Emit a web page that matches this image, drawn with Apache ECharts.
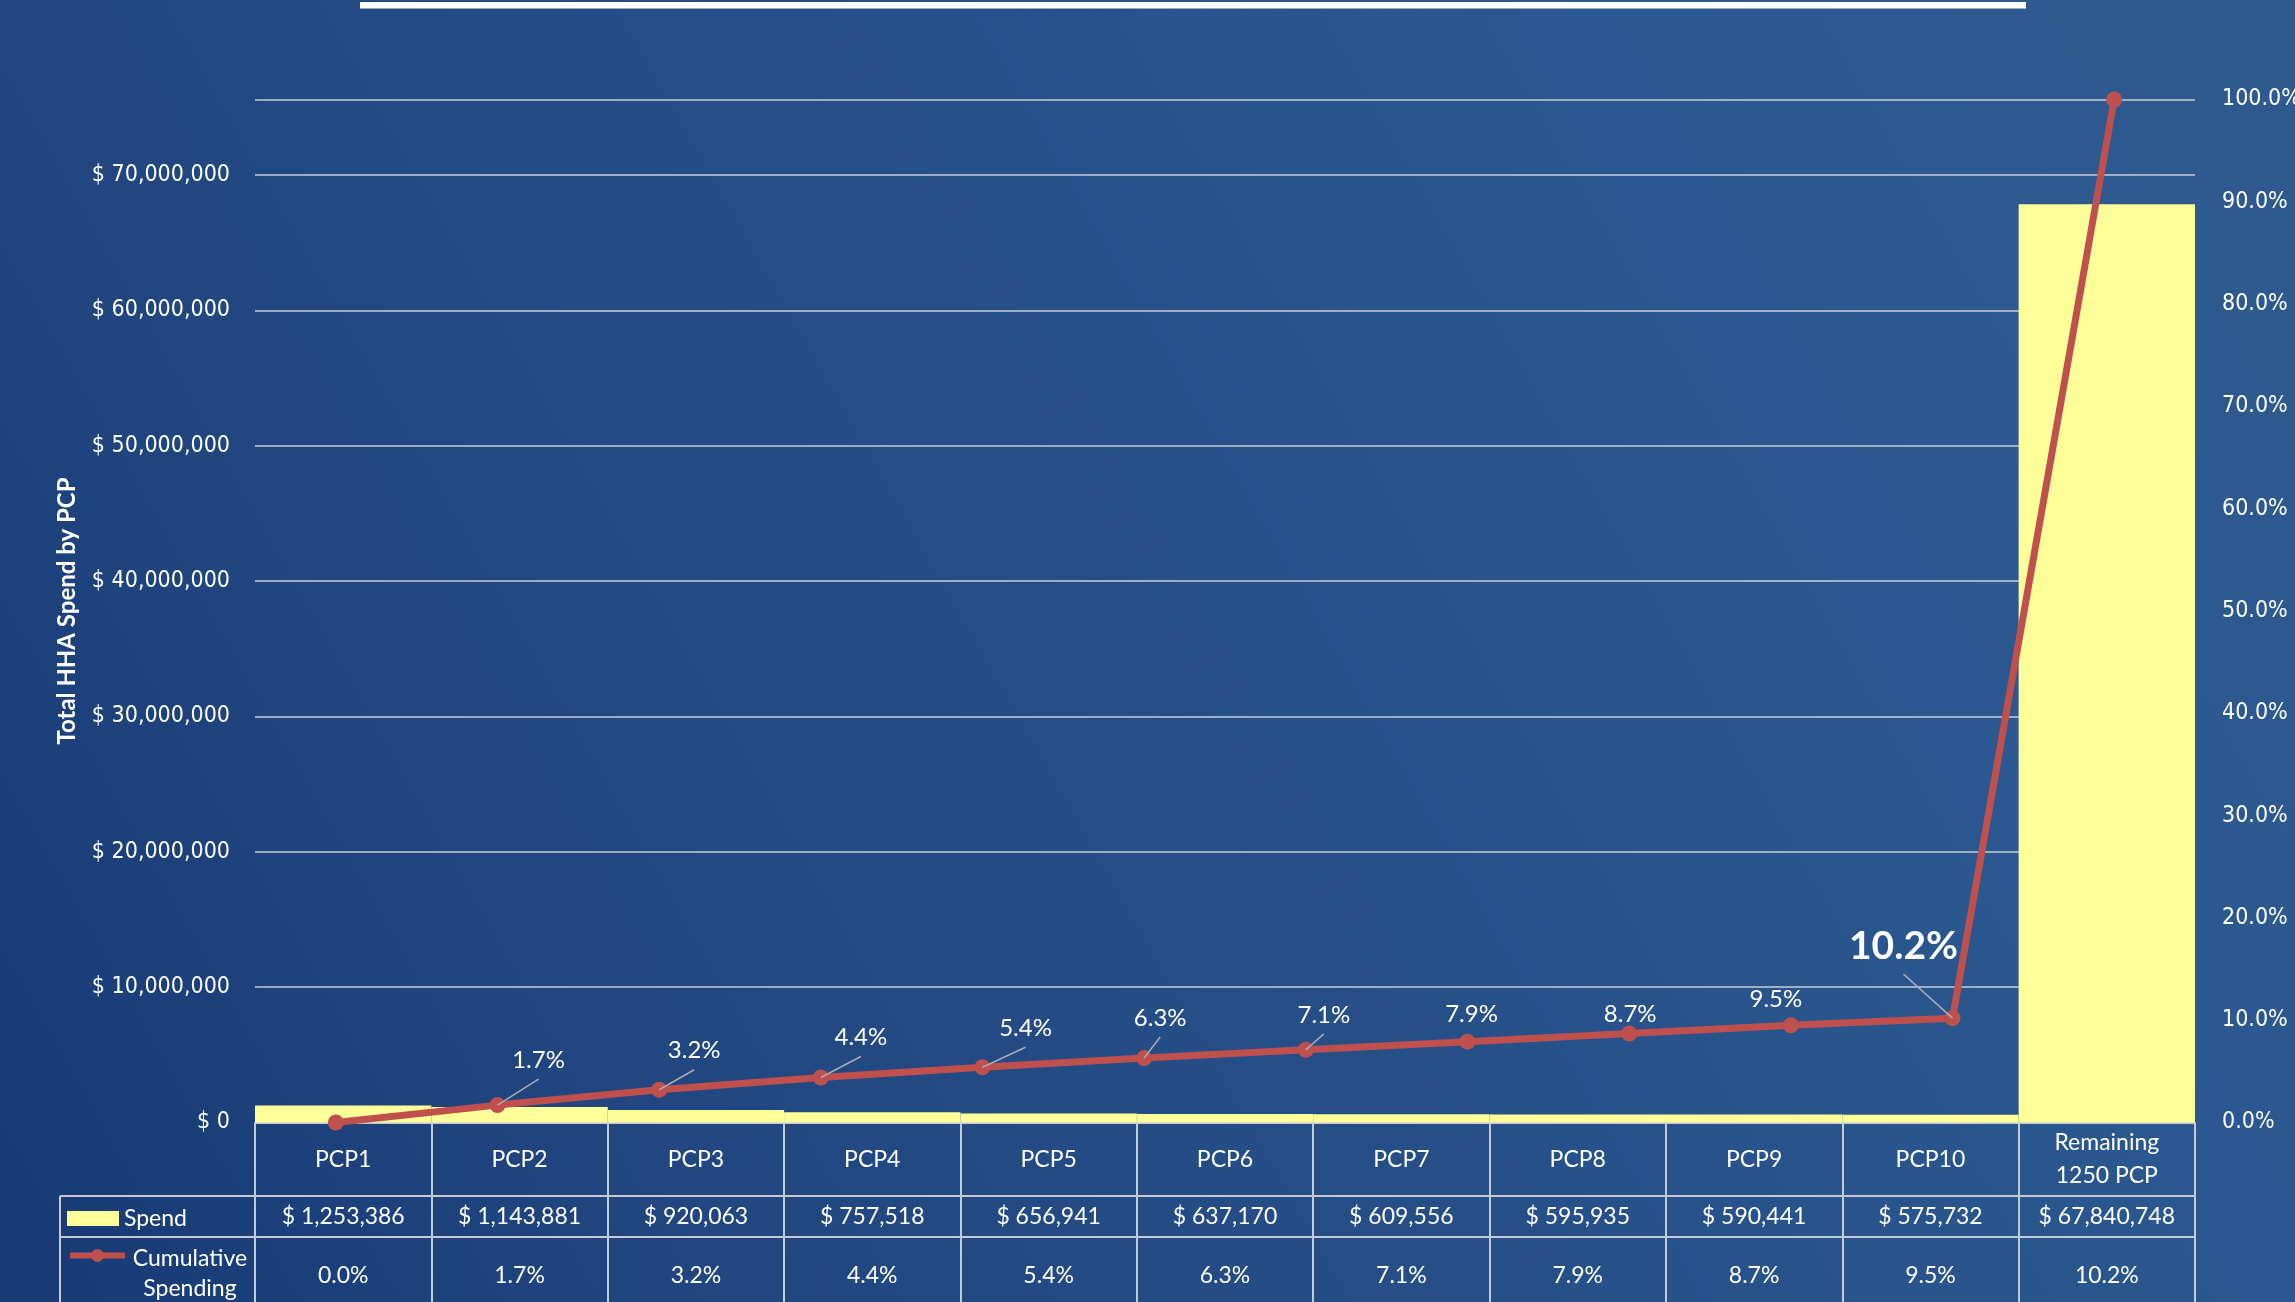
<!DOCTYPE html>
<html>
<head>
<meta charset="utf-8">
<script src="https://cdn.jsdelivr.net/npm/echarts@6/dist/echarts.min.js"></script>
<style>
html,body{margin:0;padding:0;overflow:hidden;background:#1f4580;}
#chart{width:2295px;height:1302px;}
</style>
</head>
<body>
<div id="chart"></div>
<script>
// ---- data ----
const categories = ['PCP1','PCP2','PCP3','PCP4','PCP5','PCP6','PCP7','PCP8','PCP9','PCP10','Remaining\n1250 PCP'];
const spend = [1253386, 1143881, 920063, 757518, 656941, 637170, 609556, 595935, 590441, 575732, 67840748];
const cumulativeTable = [0.0, 1.7, 3.2, 4.4, 5.4, 6.3, 7.1, 7.9, 8.7, 9.5, 10.2];
const lineSlots = ['0','1','2','3','4','5','6','7','8','9','10','11'];
const lineValues = [0.0, 1.7, 3.2, 4.4, 5.4, 6.3, 7.1, 7.9, 8.7, 9.5, 10.2, 100.0];
const leftTicks = [0, 10000000, 20000000, 30000000, 40000000, 50000000, 60000000, 70000000];
const rightTicks = [0, 10, 20, 30, 40, 50, 60, 70, 80, 90, 100];

// ---- layout / style constants ----
// label offsets (dx, dy, leader) for line points 1..10
const labelOffsets = [[41,-45,1],[35,-39,1],[40,-40,1],[43,-39,1],[16,-40,1],[18,-35,1],[4,-27,0],[1,-19,0],[-15,-26,0],[-49,-72,1]];
const axisFont = "'DejaVu Sans Condensed', 'Liberation Sans', sans-serif";
const tableFont = "Lato, 'Liberation Sans Narrow', sans-serif";
const borderColor = '#C4C9D3';
const lineColor = '#C0504D';
const totalSpend = spend.reduce((a, b) => a + b, 0);

const chart = echarts.init(document.getElementById('chart'), null, {renderer: 'canvas'});

const option = {
  animation: false,
  backgroundColor: new echarts.graphic.LinearGradient(0, 1, 1, 0, [
    {offset: 0, color: '#173A75'},
    {offset: 0.243, color: '#214680'},
    {offset: 0.757, color: '#2B5890'},
    {offset: 1, color: '#2F5A8F'}
  ]),
  graphic: [
    {type: 'rect', shape: {x: 360, y: 2, width: 1666, height: 6.5}, style: {fill: '#FFFFFF'}, z: 10},
    {type: 'line', shape: {x1: 60, y1: 1196, x2: 255, y2: 1196}, style: {stroke: borderColor, lineWidth: 2}},
    {type: 'line', shape: {x1: 60, y1: 1237, x2: 255, y2: 1237}, style: {stroke: borderColor, lineWidth: 2}},
    {type: 'line', shape: {x1: 60, y1: 1196, x2: 60, y2: 1310}, style: {stroke: borderColor, lineWidth: 2}}
  ],
  legend: [
    {
      data: ['Spend'], left: 67, top: 1207, padding: 0, itemGap: 0,
      itemWidth: 52, itemHeight: 15, icon: 'rect', selectedMode: false,
      textStyle: {color: '#FFFFFF', fontFamily: tableFont, fontSize: 23}
    },
    {
      data: ['Cumulative Spending'], left: 67, top: 1247, padding: 0, itemGap: 0,
      itemWidth: 55, itemHeight: 16, selectedMode: false,
      lineStyle: {width: 6, color: lineColor},
      itemStyle: {color: lineColor},
      formatter: () => '{a|Cumulative}\n{a|Spending}',
      textStyle: {
        color: '#FFFFFF', fontFamily: tableFont, fontSize: 23, padding: [36, 0, 0, 0],
        rich: {a: {width: 120, align: 'center', fontSize: 23, lineHeight: 30, color: '#FFFFFF', fontFamily: tableFont}}
      }
    }
  ],
  grid: {left: 255, right: 100, top: 99.5, bottom: 179.5, containLabel: false, outerBoundsMode: 'none'},
  xAxis: [
    {
      type: 'category', data: categories, position: 'bottom', boundaryGap: true,
      axisLine: {show: true, lineStyle: {color: borderColor, width: 2}},
      axisTick: {show: true, length: 200, lineStyle: {color: borderColor, width: 2}},
      axisLabel: {interval: 0, color: '#FFFFFF', fontFamily: tableFont, fontSize: 23, lineHeight: 33, margin: 37, verticalAlign: 'middle'},
      splitLine: {show: false}
    },
    {
      type: 'category', data: lineSlots, position: 'top', boundaryGap: true, show: false
    },
    {
      type: 'category', data: categories, position: 'bottom', offset: 73, boundaryGap: true,
      axisLine: {show: true, lineStyle: {color: borderColor, width: 2}},
      axisTick: {show: false},
      axisLabel: {
        interval: 0, color: '#FFFFFF', fontFamily: tableFont, fontSize: 23, margin: 21, verticalAlign: 'middle',
        formatter: (v, i) => '$ ' + spend[i].toLocaleString('en-US')
      }
    },
    {
      type: 'category', data: categories, position: 'bottom', offset: 114, boundaryGap: true,
      axisLine: {show: true, lineStyle: {color: borderColor, width: 2}},
      axisTick: {show: false},
      axisLabel: {
        interval: 0, color: '#FFFFFF', fontFamily: tableFont, fontSize: 23, margin: 39, verticalAlign: 'middle',
        formatter: (v, i) => cumulativeTable[i].toFixed(1) + '%'
      }
    }
  ],
  yAxis: [
    {
      type: 'value', min: 0, max: totalSpend, interval: 10000000, position: 'left',
      name: 'Total HHA Spend by PCP', nameLocation: 'middle', nameGap: 176,
      nameTextStyle: {color: '#FFFFFF', fontFamily: tableFont, fontWeight: 'bold', fontSize: 24},
      axisLine: {show: false}, axisTick: {show: false},
      axisLabel: {
        color: '#FFFFFF', fontFamily: axisFont, fontSize: 23, margin: 25,
        formatter: v => leftTicks.indexOf(v) >= 0 ? '$ ' + v.toLocaleString('en-US') : ''
      },
      splitLine: {show: true, lineStyle: {color: '#C9CED8', width: 1.5}}
    },
    {
      type: 'value', min: 0, max: 100, interval: 10, position: 'right',
      axisLine: {show: false}, axisTick: {show: false},
      axisLabel: {
        color: '#FFFFFF', fontFamily: axisFont, fontSize: 23, margin: 27,
        formatter: v => rightTicks.indexOf(v) >= 0 ? v.toFixed(1) + '%' : ''
      },
      splitLine: {show: false}
    }
  ],
  series: [
    {
      name: 'Spend', type: 'bar', xAxisIndex: 0, yAxisIndex: 0, data: spend,
      barCategoryGap: '0%', barGap: '0%',
      itemStyle: {color: '#FFFF99'}, z: 2
    },
    {
      name: 'Cumulative Spending', type: 'line', xAxisIndex: 1, yAxisIndex: 1, data: lineValues,
      symbol: 'circle', symbolSize: 16,
      lineStyle: {color: lineColor, width: 7},
      itemStyle: {color: lineColor}, z: 4
    },
    {
      type: 'custom', xAxisIndex: 1, yAxisIndex: 1, z: 6, silent: true,
      data: lineValues.map((v, i) => [i, v]).slice(1, 11),
      renderItem: function (params, api) {
        const i = api.value(0);
        const p = api.coord([i, api.value(1)]);
        const off = labelOffsets[i - 1];
        const big = (i === 10);
        const lx = p[0] + off[0], ly = p[1] + off[1];
        const children = [];
        if (off[2]) {
          children.push({
            type: 'line',
            shape: {x1: lx, y1: ly + (big ? 28 : 19), x2: p[0], y2: p[1]},
            style: {stroke: '#A8ACB4', lineWidth: 1.5}
          });
        }
        children.push({
          type: 'text', x: lx, y: ly,
          style: {
            text: lineValues[i].toFixed(1) + '%', fill: '#FFFFFF',
            fontFamily: tableFont, fontSize: big ? 39 : 24, fontWeight: big ? 'bold' : 'normal',
            align: 'center', verticalAlign: 'middle'
          }
        });
        return {type: 'group', children: children};
      }
    }
  ]
};
chart.setOption(option);
</script>
</body>
</html>
